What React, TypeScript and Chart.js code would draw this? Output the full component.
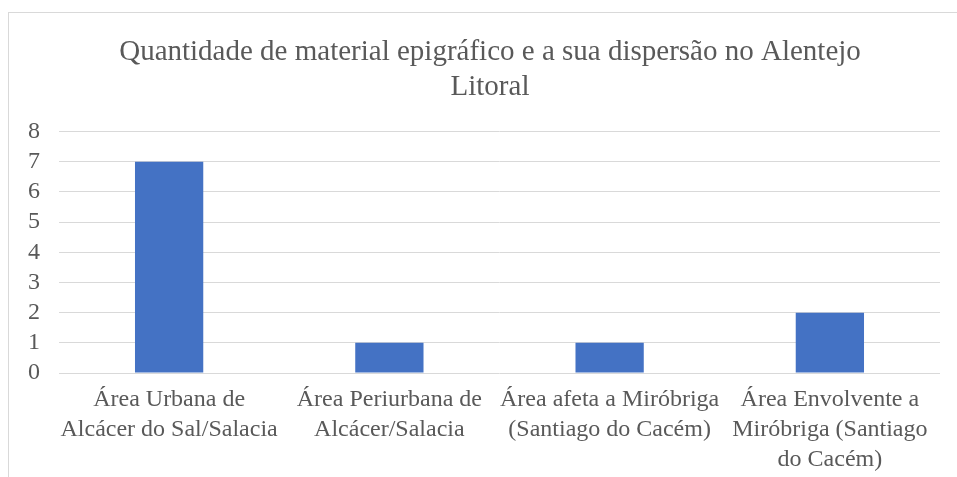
import React, { useEffect, useRef } from "react";
import { Chart, registerables } from "chart.js";

Chart.register(...registerables);

const titleLines = ["Quantidade de material epigráfico e a sua dispersão no Alentejo", "Litoral"];
const categories = [
  ["Área Urbana de", "Alcácer do Sal/Salacia"],
  ["Área Periurbana de", "Alcácer/Salacia"],
  ["Área afeta a Miróbriga", "(Santiago do Cacém)"],
  ["Área Envolvente a", "Miróbriga (Santiago", "do Cacém)"],
];
const values = [7, 1, 1, 2];
const yTicks = [0, 1, 2, 3, 4, 5, 6, 7, 8];

export default function App() {
  const ref = useRef<HTMLCanvasElement>(null);
  useEffect(() => {
    if (!ref.current) return;
    const font = "'Liberation Serif', 'Times New Roman', serif";
    const chart = new Chart(ref.current, {
      type: "bar",
      data: {
        labels: categories,
        datasets: [
          {
            data: values,
            backgroundColor: "#4472C4",
            barPercentage: 0.31,
            categoryPercentage: 1,
          },
        ],
      },
      options: {
        animation: false,
        responsive: true,
        maintainAspectRatio: false,
        layout: { padding: { left: 0, right: 0, top: 0, bottom: 8 } },
        plugins: {
          legend: { display: false },
          tooltip: { enabled: false },
          title: {
            display: true,
            text: titleLines,
            color: "#595959",
            font: { family: font, size: 29, weight: "normal", lineHeight: 1.2 },
            padding: { top: 22, bottom: 27 },
          },
        },
        scales: {
          x: {
            grid: { display: false },
            border: { display: false },
            ticks: {
              color: "#595959",
              font: { family: font, size: 24, lineHeight: 1.25 },
              maxRotation: 0,
              autoSkip: false,
              padding: 4,
            },
          },
          y: {
            min: 0,
            max: 8,
            afterBuildTicks: (axis: any) => {
              axis.ticks = yTicks.map((v) => ({ value: v }));
            },
            grid: { color: "#d9d9d9", lineWidth: 1, drawTicks: false },
            border: { display: false },
            ticks: {
              color: "#595959",
              font: { family: font, size: 24 },
              padding: 19,
              autoSkip: false,
            },
          },
          y2: {
            position: "right",
            min: 0,
            max: 8,
            grid: { display: false, drawTicks: false },
            border: { display: false },
            ticks: { display: false },
            afterFit: (s: any) => {
              s.width = 31;
            },
          },
        },
      },
    });
    return () => chart.destroy();
  }, []);
  return (
    <div
      style={{
        position: "absolute",
        left: 8,
        top: 12,
        width: 964,
        height: 476,
        border: "1px solid #d9d9d9",
        boxSizing: "border-box",
        background: "#fff",
      }}
    >
      <div style={{ position: "relative", width: "100%", height: "100%" }}>
        <canvas ref={ref} />
      </div>
    </div>
  );
}
